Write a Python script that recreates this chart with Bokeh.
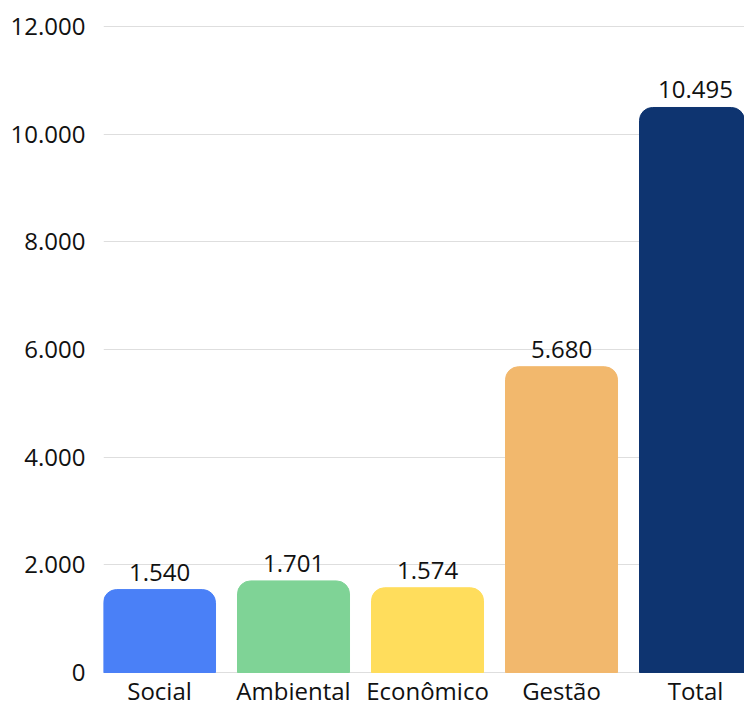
from bokeh.plotting import figure
from bokeh.models import ColumnDataSource, FixedTicker, CustomJSTickFormatter, Range1d
from bokeh.embed import file_html
from bokeh.resources import INLINE
from bokeh.core.properties import value

categories = ["Social", "Ambiental", "Econômico", "Gestão", "Total"]
values = [1540, 1701, 1574, 5680, 10495]
colors = ["#4a80f7", "#7fd396", "#ffdd5c", "#f2b86d", "#0e3470"]
y_ticks = [0, 2000, 4000, 6000, 8000, 10000, 12000]

def fmt(v):
    return f"{v:,}".replace(",", ".")

xs = list(range(len(categories)))
src = ColumnDataSource(dict(x=xs, top=values, color=colors,
                            label=[fmt(v) for v in values]))

FONT = "Open Sans"
FS = "24px"
W = 0.836
p = figure(width=744, height=709, output_backend="svg", toolbar_location=None,
           x_range=Range1d(-W / 2, -W / 2 + (744 - 103) / 134.0),
           y_range=Range1d(-56, 12111))
p.min_border_left = 103
p.min_border_right = 0
p.min_border_top = 20
p.min_border_bottom = 30
p.outline_line_color = None
p.background_fill_color = "white"
p.border_fill_color = "white"

p.vbar(x="x", top="top", width=W, bottom=0, color="color", source=src,
       border_radius=(13, 13, 0, 0))
p.text(x="x", y="top", text="label", source=src, text_align="center",
       text_baseline="bottom", y_offset=-9, text_font=value(FONT),
       text_font_size=FS, text_color="#111111")

p.xgrid.grid_line_color = None
p.ygrid.grid_line_color = "#dedede"
p.ygrid.grid_line_width = 1
p.ygrid.ticker = FixedTicker(ticks=y_ticks)

p.yaxis.ticker = FixedTicker(ticks=y_ticks)
p.yaxis.formatter = CustomJSTickFormatter(code="return tick.toLocaleString('pt-BR').replace(/,/g,'.');")
p.yaxis.axis_line_color = None
p.yaxis.major_tick_line_color = None
p.yaxis.minor_tick_line_color = None
p.yaxis.major_tick_out = 0
p.yaxis.major_tick_in = 0
p.yaxis.major_label_standoff = 18
p.yaxis.major_label_text_font = FONT
p.yaxis.major_label_text_font_size = FS
p.yaxis.major_label_text_color = "#111111"

p.xaxis.ticker = FixedTicker(ticks=xs)
p.xaxis.major_label_overrides = {i: c for i, c in enumerate(categories)}
p.xaxis.axis_line_color = None
p.xaxis.major_tick_line_color = None
p.xaxis.minor_tick_line_color = None
p.xaxis.major_tick_out = 0
p.xaxis.major_tick_in = 0
p.xaxis.major_label_standoff = -2
p.xaxis.major_label_text_font = FONT
p.xaxis.major_label_text_font_size = FS
p.xaxis.major_label_text_color = "#111111"

open("out.html", "w").write(file_html(p, INLINE))
